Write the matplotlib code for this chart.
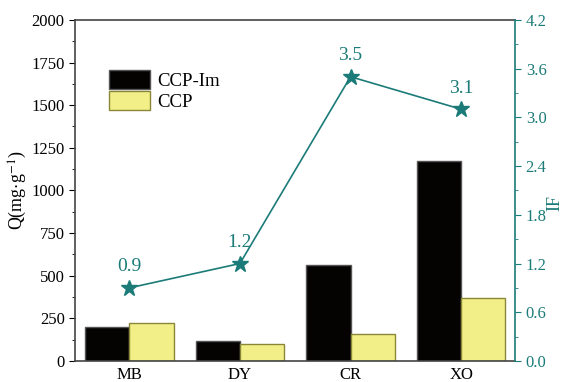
import matplotlib.pyplot as plt
import numpy as np

plt.rcParams['font.family'] = ['Liberation Serif', 'DejaVu Serif']
plt.rcParams['mathtext.fontset'] = 'stix'

dyes = ['MB', 'DY', 'CR', 'XO']
q_ccp_im = [200, 120, 560, 1170]
q_ccp = [222, 97, 158, 372]
imprint_factor = [0.9, 1.2, 3.5, 3.1]

teal = '#1b7b78'

fig = plt.figure(figsize=(5.65, 3.82), dpi=100)
ax = fig.add_axes([0.133, 0.055, 0.779, 0.893])
x = np.arange(len(dyes))
w = 0.4
ax.bar(x - w / 2, q_ccp_im, w, color='#050202', edgecolor='#555555',
       linewidth=1.0, label='CCP-Im')
ax.bar(x + w / 2, q_ccp, w, color='#f2ee88', edgecolor='#8a8838',
       linewidth=1.0, label='CCP')
ax.set_xlim(-0.49, 3.49)
ax.set_ylim(0, 2000)
ax.set_xticks(x)
ax.set_xticklabels(dyes)
ax.set_yticks(np.arange(0, 2001, 250))
ax.set_yticks(np.arange(125, 2000, 250), minor=True)
ax.tick_params(axis='x', length=0, labelsize=12, pad=4)
ax.tick_params(axis='y', which='major', length=4, direction='out', labelsize=12)
ax.tick_params(axis='y', which='minor', length=2.5, direction='out')
ax.set_ylabel('Q(mg$\\cdot$g$^{-1}$)', fontsize=13, labelpad=2)
for s in ['left', 'bottom', 'top']:
    ax.spines[s].set_color('#444444')
    ax.spines[s].set_linewidth(1.2)
ax.spines['right'].set_visible(False)
ax.legend(loc='upper left', bbox_to_anchor=(0.06, 0.875), frameon=False,
          fontsize=13.5, handlelength=2.2, handleheight=1.2,
          handletextpad=0.35, labelspacing=0.05, borderaxespad=0)

ax2 = ax.twinx()
ax2.plot(x, imprint_factor, color=teal, linewidth=1.2, marker='*',
         markersize=12, markeredgecolor=teal)
for xi, v in zip(x, imprint_factor):
    ax2.annotate(f'{v:.1f}', (xi, v), xytext=(0, 9), textcoords='offset points',
                 ha='center', va='bottom', color=teal, fontsize=14)
ax2.set_ylim(0, 4.2)
ax2.set_yticks(np.arange(0, 4.21, 0.6))
ax2.set_yticks(np.arange(0.3, 4.2, 0.6), minor=True)
ax2.yaxis.set_major_formatter(plt.FormatStrFormatter('%.1f'))
ax2.tick_params(axis='y', which='major', length=4, direction='out',
                color=teal, labelcolor=teal, labelsize=12)
ax2.tick_params(axis='y', which='minor', length=2.5, direction='out', color=teal)
ax2.set_ylabel('IF', fontsize=13, color=teal)
ax2.yaxis.set_label_coords(1.07, 0.463)
ax2.spines['right'].set_color(teal)
ax2.spines['right'].set_linewidth(1.2)
for s in ['left', 'bottom', 'top']:
    ax2.spines[s].set_visible(False)

fig.savefig('out.png', dpi=100)
